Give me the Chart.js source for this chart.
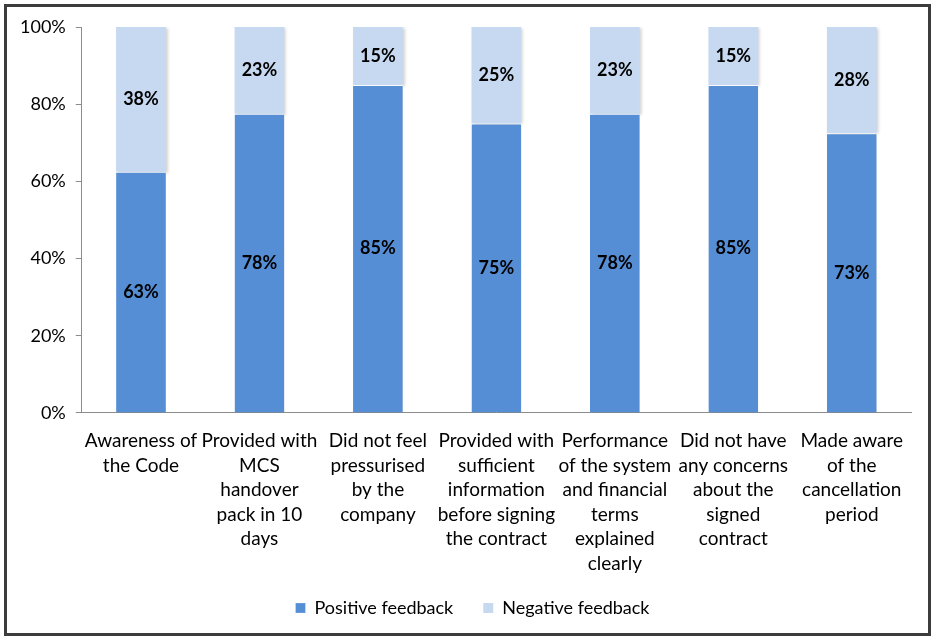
<!DOCTYPE html>
<html>
<head>
<meta charset="utf-8">
<script src="https://cdn.jsdelivr.net/npm/chart.js@4/dist/chart.umd.min.js"></script>
<style>
  html, body { margin: 0; padding: 0; background: #fff; }
  #frame {
    position: absolute; left: 4px; top: 4px;
    width: 927px; height: 632px;
    border: 3px solid #3c3c3c; box-sizing: border-box;
  }
  #c { position: absolute; left: 0; top: 0; }
</style>
</head>
<body>
<div id="frame"></div>
<canvas id="c" width="933" height="638"></canvas>
<script>
const categories = [
    ["Awareness of", "the Code"],
    ["Provided with", "MCS", "handover", "pack in 10", "days"],
    ["Did not feel", "pressurised", "by the", "company"],
    ["Provided with", "sufficient", "information", "before signing", "the contract"],
    ["Performance", "of the system", "and financial", "terms", "explained", "clearly"],
    ["Did not have", "any concerns", "about the", "signed", "contract"],
    ["Made aware", "of the", "cancellation", "period"]
];
const positive = [62.5, 77.5, 85, 75, 77.5, 85, 72.5];
const negative = [37.5, 22.5, 15, 25, 22.5, 15, 27.5];
const yTicks = [0, 20, 40, 60, 80, 100];

const font = "Lato, 'Open Sans', sans-serif";

// draws the bold percentage in the middle of every segment
const barLabels = {
    id: "barLabels",
    afterDatasetsDraw(chart) {
        const ctx = chart.ctx;
        ctx.save();
        ctx.font = "bold 18px " + font;
        ctx.fillStyle = "#000";
        ctx.textAlign = "center";
        ctx.textBaseline = "middle";
        chart.data.datasets.forEach((ds, i) => {
            chart.getDatasetMeta(i).data.forEach((bar, j) => {
                const mid = (bar.y + bar.base) / 2;
                ctx.fillText(Math.round(ds.data[j]) + "%", bar.x, mid);
            });
        });
        ctx.restore();
    }
};

// soft shadow behind the bars
const barShadow = {
    id: "barShadow",
    beforeDatasetsDraw(chart) {
        const ctx = chart.ctx;
        ctx.save();
        ctx.shadowColor = "rgba(0,0,0,0.18)";
        ctx.shadowBlur = 3;
        ctx.shadowOffsetX = 2;
        ctx.shadowOffsetY = 1;
    },
    afterDatasetsDraw(chart) {
        chart.ctx.restore();
    }
};

// x labels are allowed to run into the legend's padding, so don't clip them,
// and nudge the legend a little to the right
const layoutTweaks = {
    id: "layoutTweaks",
    afterLayout(chart) {
        chart.scales.x.bottom += 40;
        chart.legend.left += 12;
        chart.legend.right += 12;
    }
};

new Chart(document.getElementById("c"), {
    type: "bar",
    data: {
        labels: categories,
        datasets: [
            {
                label: "Positive feedback",
                data: positive,
                backgroundColor: "#558ED5",
                borderColor: "#ffffff",
                borderWidth: { top: 1, left: 0, right: 0, bottom: 0 },
                borderSkipped: "start",
                categoryPercentage: 1,
                barPercentage: 0.42
            },
            {
                label: "Negative feedback",
                data: negative,
                backgroundColor: "#C6D9F1",
                borderWidth: 0,
                categoryPercentage: 1,
                barPercentage: 0.42
            }
        ]
    },
    options: {
        responsive: false,
        animation: false,
        layout: { padding: { left: 10, right: 22, top: 27, bottom: 11 } },
        plugins: {
            legend: {
                position: "bottom",
                labels: {
                    boxWidth: 10,
                    boxHeight: 10,
                    padding: 30,
                    color: "#000",
                    font: { family: font, size: 18 }
                }
            },
            tooltip: { enabled: false }
        },
        scales: {
            x: {
                stacked: true,
                grid: { display: false },
                border: { display: true, color: "#8c8c8c", width: 1 },
                ticks: {
                    color: "#000",
                    maxRotation: 0,
                    autoSkip: false,
                    padding: 8,
                    font: { family: font, size: 19, lineHeight: 1.29 }
                },
                afterFit(scale) {
                    scale.height -= 15;
                }
            },
            y: {
                stacked: true,
                min: 0,
                max: 100,
                afterBuildTicks(axis) {
                    axis.ticks = yTicks.map(v => ({ value: v }));
                },
                grid: { drawOnChartArea: false, drawTicks: true, tickLength: 6, color: "#8c8c8c" },
                border: { display: true, color: "#8c8c8c", width: 1 },
                ticks: {
                    color: "#000",
                    padding: 10,
                    font: { family: font, size: 18 },
                    callback: v => v + "%"
                }
            }
        }
    },
    plugins: [barShadow, barLabels, layoutTweaks]
});
</script>
</body>
</html>
